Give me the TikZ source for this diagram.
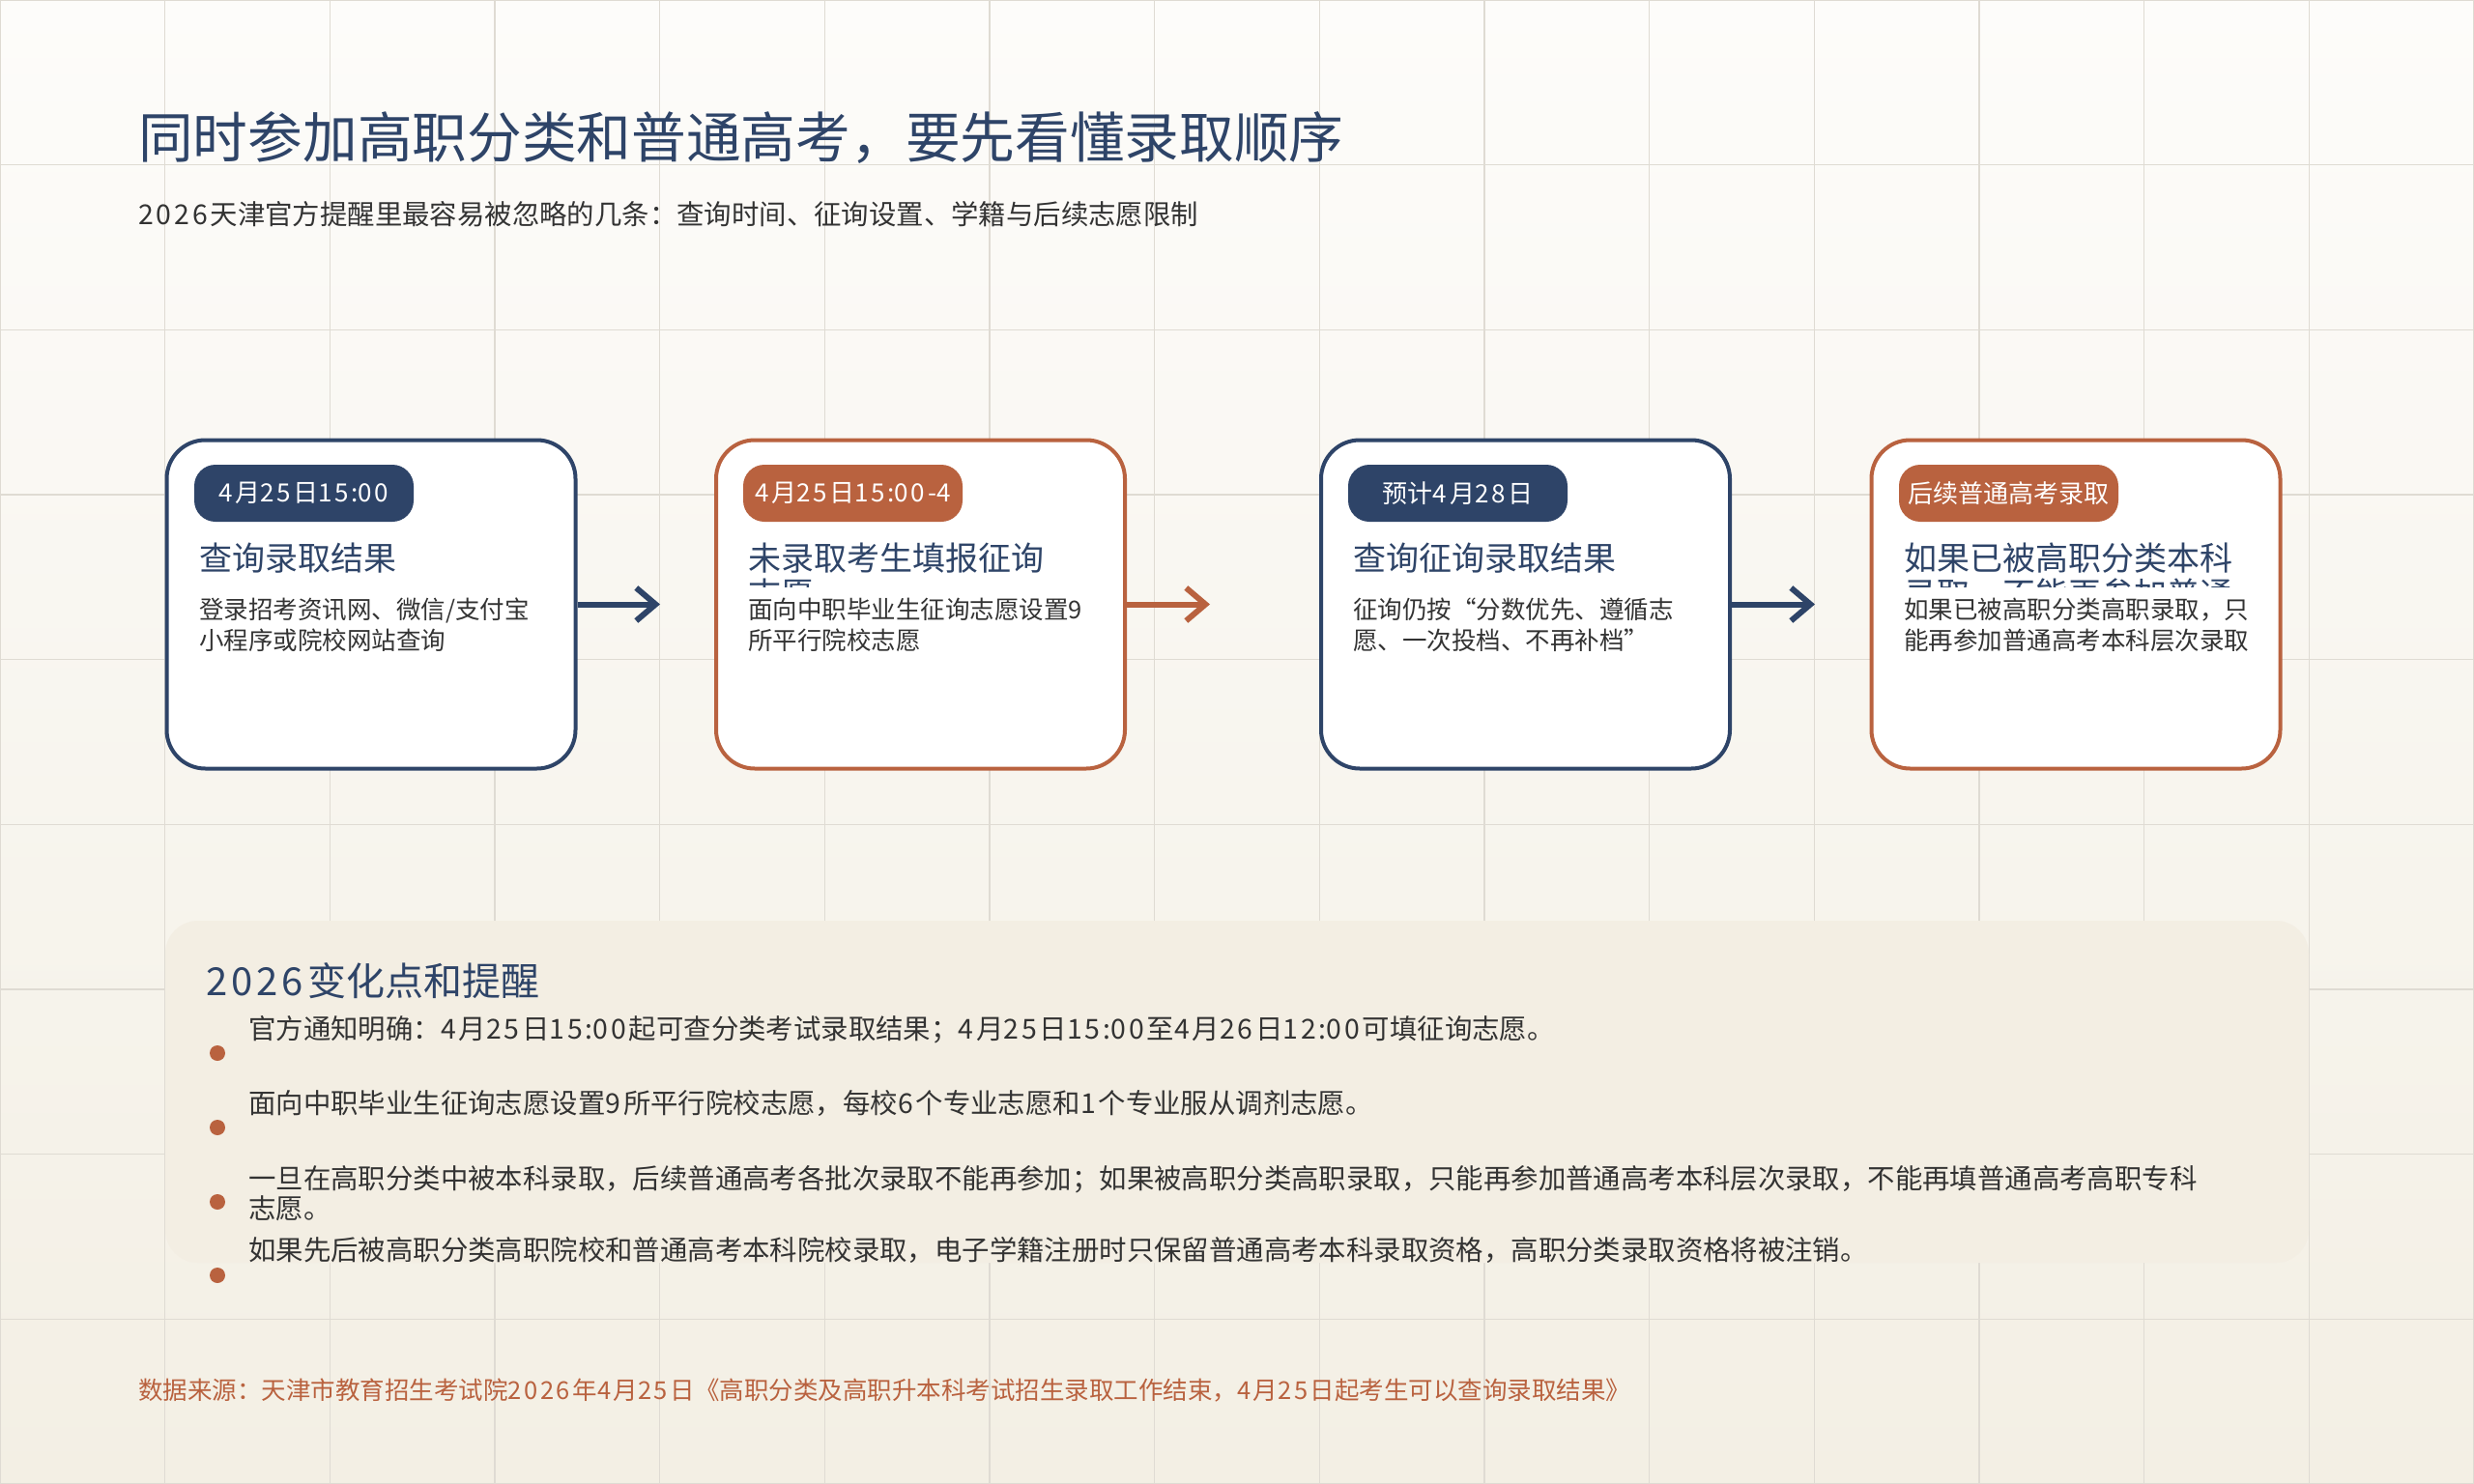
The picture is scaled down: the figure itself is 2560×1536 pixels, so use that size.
\documentclass[tikz,border=0pt]{standalone}
\usepackage{fontspec}
\setmainfont{Noto Sans CJK SC}
\usetikzlibrary{arrows.meta,calc}
% widen proportional digits a little (reference digits are ~0.6em)
\newXeTeXintercharclass\dgclass
\XeTeXcharclass`0=\dgclass \XeTeXcharclass`1=\dgclass \XeTeXcharclass`2=\dgclass
\XeTeXcharclass`3=\dgclass \XeTeXcharclass`4=\dgclass \XeTeXcharclass`5=\dgclass
\XeTeXcharclass`6=\dgclass \XeTeXcharclass`7=\dgclass \XeTeXcharclass`8=\dgclass
\XeTeXcharclass`9=\dgclass
\XeTeXinterchartoks\dgclass\dgclass={\kern.1em}
\XeTeXinterchartoks\dgclass 0={\kern.1em}
\XeTeXinterchartoks\dgclass 1={\kern.1em}
\XeTeXinterchartoks\dgclass 2={\kern.1em}
\XeTeXinterchartoks\dgclass 3={\kern.1em}
\definecolor{navy}{HTML}{2E4468}
\definecolor{rust}{HTML}{B9623F}
\definecolor{ink}{HTML}{333333}
\definecolor{gridc}{HTML}{DFDBD3}
\definecolor{bgtop}{HTML}{FDFCFA}
\definecolor{bgbot}{HTML}{F3EFE4}
\definecolor{panelc}{HTML}{F3EEE3}
\tikzset{
  every node/.append style={execute at begin node={\XeTeXinterchartokenstate=1 }},
  gridline/.style={draw=gridc, line width=1.6pt},
  card/.style={draw=#1, fill=white, line width=4pt, rounded corners=40pt,
    minimum width=423pt, minimum height=340pt, inner sep=0pt},
  badge/.style={fill=#1, text=white, rounded corners=22pt,
    minimum width=227pt, minimum height=59pt, inner sep=0pt,
    font=\fontsize{26}{30}\selectfont},
  maintitle/.style={anchor=base west, inner sep=0pt, text=navy,
    font=\fontsize{56.7}{62}\selectfont},
  subtitle/.style={anchor=base west, inner sep=0pt, text=ink,
    font=\fontsize{28.4}{32}\selectfont},
  ctitle/.style={anchor=base west, inner sep=0pt, text=navy,
    font=\fontsize{34}{37}\selectfont},
  cdesc/.style={anchor=base west, inner sep=0pt, text=ink,
    font=\fontsize{25.5}{32}\selectfont},
  flow/.style={draw=#1, line width=6pt, -{Straight Barb[length=20pt,width=34pt]}},
  panelbox/.style={fill=panelc, rounded corners=34pt, minimum width=2218pt,
    minimum height=354pt, inner sep=0pt},
  phead/.style={anchor=base west, inner sep=0pt, text=navy,
    font=\fontsize{40}{46}\selectfont},
  dotmark/.style={circle, fill=rust, minimum size=16pt, inner sep=0pt},
  itemtext/.style={anchor=base west, inner sep=0pt, text=ink,
    font=\fontsize{28.4}{31}\selectfont},
  srctext/.style={anchor=base west, inner sep=0pt, text=rust,
    font=\fontsize{25.5}{30}\selectfont}
}
\begin{document}
\begin{tikzpicture}[x=1pt,y=-1pt]
\useasboundingbox (0,0) rectangle (2560,1536);
\shade[top color=bgtop, bottom color=bgbot] (0,0) rectangle (2560,1536);
\foreach \i in {0,...,15} \draw[gridline] ({\i*170.6667},0) -- ({\i*170.6667},1536);
\foreach \j in {0,...,9} \draw[gridline] (0,{\j*170.6667}) -- (2560,{\j*170.6667});

% heading
\node[maintitle] (title) at (143,164) {同时参加高职分类和普通高考，要先看懂录取顺序};
\node[subtitle] (sub) at (143,232) {2026天津官方提醒里最容易被忽略的几条：查询时间、征询设置、学籍与后续志愿限制};

% cards
\node[card=navy] (c1) at (384,625.5) {};
\node[card=rust] (c2) at (952.5,625.5) {};
\node[card=navy] (c3) at (1578.5,625.5) {};
\node[card=rust] (c4) at (2148,625.5) {};

\node[badge=navy] (b1) at (314.5,510.5) {4月25日15:00};
\node[badge=rust] (b2) at (882.5,510.5) {4月25日15:00-4};
\node[badge=navy] (b3) at (1508.5,510.5) {预计4月28日};
\node[badge=rust] (b4) at (2078.5,510.5) {后续普通高考录取};

\node[ctitle] (t1) at (206,590) {查询录取结果};
\begin{scope}
  \clip (745,540) rectangle (1160,607);
  \node[ctitle] (t2) at (774,590) {未录取考生填报征询};
  \node[ctitle] (t2b) at (774,627) {志愿};
\end{scope}
\node[ctitle] (t3) at (1400,590) {查询征询录取结果};
\begin{scope}
  \clip (1941,540) rectangle (2355,607);
  \node[ctitle] (t4) at (1970,590) {如果已被高职分类本科};
  \node[ctitle] (t4b) at (1970,627) {录取，不能再参加普通};
\end{scope}

\node[cdesc] (d1a) at (206,640) {登录招考资讯网、微信/支付宝};
\node[cdesc] (d1b) at (206,672) {小程序或院校网站查询};
\node[cdesc] (d2a) at (774,640) {面向中职毕业生征询志愿设置9};
\node[cdesc] (d2b) at (774,672) {所平行院校志愿};
\node[cdesc] (d3a) at (1400,640) {征询仍按“分数优先、遵循志};
\node[cdesc] (d3b) at (1400,672) {愿、一次投档、不再补档”};
\node[cdesc] (d4a) at (1970,640) {如果已被高职分类高职录取，只};
\node[cdesc] (d4b) at (1970,672) {能再参加普通高考本科层次录取};

% connectors
\coordinate (e1) at (683,625.5);
\coordinate (e2) at (1252,625.5);
\coordinate (e3) at (1878,625.5);
\draw[flow=navy] (c1.east) -- (e1);
\draw[flow=rust] (c2.east) -- (e2);
\draw[flow=navy] (c3.east) -- (e3);

% panel
\node[panelbox] (panel) at (1280,1130) {};
\node[phead] (ph) at (213,1030) {2026变化点和提醒};
\node[dotmark] (m1) at (225,1090) {};
\node[dotmark] (m2) at (225,1167) {};
\node[dotmark] (m3) at (225,1244) {};
\node[dotmark] (m4) at (225,1320) {};
\node[itemtext] (i1) at (257,1075) {官方通知明确：4月25日15:00起可查分类考试录取结果；4月25日15:00至4月26日12:00可填征询志愿。};
\node[itemtext] (i2) at (257,1152) {面向中职毕业生征询志愿设置9所平行院校志愿，每校6个专业志愿和1个专业服从调剂志愿。};
\node[itemtext] (i3) at (257,1230) {一旦在高职分类中被本科录取，后续普通高考各批次录取不能再参加；如果被高职分类高职录取，只能再参加普通高考本科层次录取，不能再填普通高考高职专科};
\node[itemtext] (i3b) at (257,1261) {志愿。};
\node[itemtext] (i4) at (257,1304) {如果先后被高职分类高职院校和普通高考本科院校录取，电子学籍注册时只保留普通高考本科录取资格，高职分类录取资格将被注销。};

% source
\node[srctext] (src) at (143,1448) {数据来源：天津市教育招生考试院2026年4月25日《高职分类及高职升本科考试招生录取工作结束，4月25日起考生可以查询录取结果》};
\end{tikzpicture}
\end{document}
